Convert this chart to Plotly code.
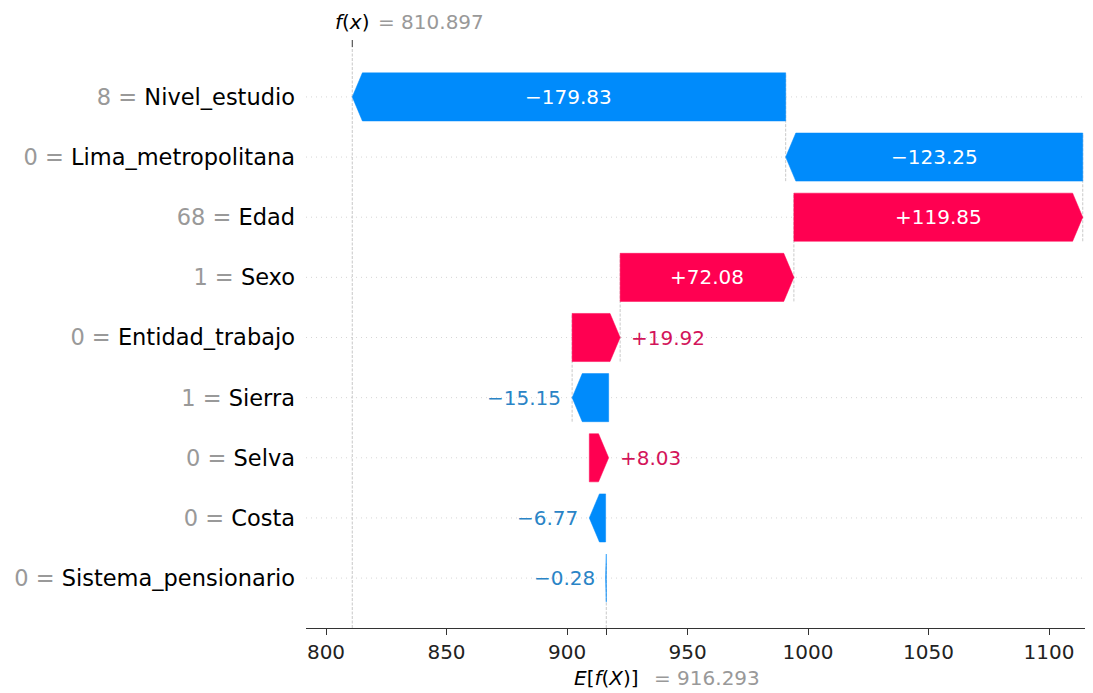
import plotly.graph_objects as go

# SHAP waterfall data (top row first)
feature_names = ["Nivel_estudio", "Lima_metropolitana", "Edad", "Sexo", "Entidad_trabajo",
                 "Sierra", "Selva", "Costa", "Sistema_pensionario"]
feature_values = ["8", "0", "68", "1", "0", "1", "0", "0", "0"]
shap_values = [-179.83, -123.25, 119.85, 72.08, 19.92, -15.15, 8.03, -6.77, -0.28]
base_value = 916.293
f_x = 810.897
x_ticks = [800, 850, 900, 950, 1000, 1050, 1100]

RED = "#ff0051"
BLUE = "#008bfb"
RED_TXT = "#d3145a"
BLUE_TXT = "#2a84c6"
FONT = "DejaVu Sans"

# page body adds an 8px margin, so the figure is a little smaller than the window
W, H = 1085, 685
M_L, M_R, M_T, M_B = 298, 2, 39, 65
X_RANGE = [791.7, 1117.4]
n = len(feature_names)
Y_RANGE = [-0.83, n - 1 + 0.83]
px_per_unit = (W - M_L - M_R) / (X_RANGE[1] - X_RANGE[0])

HEAD = 4.2      # arrow head length in data units
HALF = 0.4      # half bar height in row units
DASH = dict(color="#bbbbbb", width=0.8, dash="3px,1.5px")

fig = go.Figure()

# cumulative positions, from the bottom row upwards starting at E[f(X)]
rows = list(range(n - 1, -1, -1))   # y position of each feature (top = n-1)
starts = [0.0] * n
loc = base_value
for i in range(n - 1, -1, -1):
    starts[i] = loc
    loc += shap_values[i]

shapes = []

# faint dotted row lines
for y in rows:
    shapes.append(dict(type="line", xref="paper", yref="y", x0=0, x1=1, y0=y, y1=y,
                       line=dict(color="#cccccc", width=0.8, dash="1px,4px"), layer="below"))

# dashed connectors between consecutive bars (first five rows, like shap)
for i in range(5):
    y = rows[i]
    shapes.append(dict(type="line", xref="x", yref="y", x0=starts[i], x1=starts[i],
                       y0=y - 1 - HALF, y1=y + HALF, line=DASH, layer="below"))

# f(x) line full height, E[f(X)] line over the bottom row only
shapes.append(dict(type="line", xref="x", yref="paper", x0=f_x, x1=f_x, y0=0, y1=1,
                   line=DASH, layer="below"))
shapes.append(dict(type="line", xref="x", yref="paper", x0=base_value, x1=base_value,
                   y0=0, y1=1 / n, line=DASH, layer="below"))
# top tick for f(x)
shapes.append(dict(type="line", xref="x", yref="paper", x0=f_x, x1=f_x,
                   y0=1, y1=1 + 7 / (H - M_T - M_B), line=dict(color="#333333", width=1)))

annotations = []

for i in range(n):
    v = shap_values[i]
    y = rows[i]
    d = abs(v)
    h = min(d, HEAD)
    if v >= 0:
        left = starts[i]
        xs = [left, left + d - h, left + d, left + d - h, left, left]
        color, txt_color = RED, RED_TXT
        tip_x = left + d
    else:
        right = starts[i]
        xs = [right, right - (d - h), right - d, right - (d - h), right, right]
        color, txt_color = BLUE, BLUE_TXT
        tip_x = right - d
    ys = [y - HALF, y - HALF, y, y + HALF, y + HALF, y - HALF]
    fig.add_trace(go.Scatter(x=xs, y=ys, mode="lines", fill="toself", fillcolor=color,
                             line=dict(color=color, width=0.5), hoverinfo="skip",
                             showlegend=False))

    label = ("+" if v >= 0 else "\u2212") + f"{d:.2f}"
    text_w = len(label) * 0.62 * 20
    if d * px_per_unit > text_w + 10:
        annotations.append(dict(x=(starts[i] + tip_x) / 2, y=y, xref="x", yref="y", text=label,
                                showarrow=False, font=dict(family=FONT, size=20, color="white"),
                                xanchor="center", yanchor="middle"))
    else:
        annotations.append(dict(x=tip_x, y=y, xref="x", yref="y", text=label, showarrow=False,
                                font=dict(family=FONT, size=20, color=txt_color),
                                xanchor="left" if v >= 0 else "right", yanchor="middle",
                                xshift=9 if v >= 0 else -9))

# f(x) and E[f(X)] labels
annotations.append(dict(x=f_x, y=1, xref="x", yref="paper", yshift=25,
                        text="<i>f</i>(<i>x</i>)", showarrow=False,
                        font=dict(family=FONT, size=20, color="black"),
                        xanchor="center", yanchor="middle"))
annotations.append(dict(x=f_x, y=1, xref="x", yref="paper", yshift=25, xshift=24,
                        text=f"= {f_x:.3f}", showarrow=False,
                        font=dict(family=FONT, size=20, color="#999999"),
                        xanchor="left", yanchor="middle"))
annotations.append(dict(x=base_value, y=0, xref="x", yref="paper", yshift=-50,
                        text="<i>E</i>[<i>f</i>(<i>X</i>)]", showarrow=False,
                        font=dict(family=FONT, size=20, color="black"),
                        xanchor="center", yanchor="middle"))
annotations.append(dict(x=base_value, y=0, xref="x", yref="paper", yshift=-50, xshift=46,
                        text=f"= {base_value:.3f}", showarrow=False,
                        font=dict(family=FONT, size=20, color="#999999"),
                        xanchor="left", yanchor="middle"))

ticktext_y = [f"<span style='color:#999999'>{fv} = </span>{fn}"
              for fv, fn in zip(feature_values, feature_names)]

fig.update_layout(
    width=W, height=H,
    margin=dict(l=M_L, r=M_R, t=M_T, b=M_B, autoexpand=False),
    plot_bgcolor="white", paper_bgcolor="white",
    shapes=shapes, annotations=annotations,
    showlegend=False,
    font=dict(family=FONT, color="black"),
)
fig.update_xaxes(range=X_RANGE, showgrid=False, zeroline=False, automargin=False,
                 tickvals=x_ticks + [base_value], ticktext=[str(t) for t in x_ticks] + [""],
                 ticks="outside", ticklen=6, tickcolor="#333333", tickwidth=1,
                 showline=True, linecolor="#333333", linewidth=1.2,
                 tickfont=dict(family=FONT, size=20, color="#222222"))
fig.update_yaxes(range=Y_RANGE, showgrid=False, zeroline=False, showline=False, automargin=False,
                 tickvals=rows, ticktext=ticktext_y, ticks="", ticklabelstandoff=10,
                 tickfont=dict(family=FONT, size=22.5, color="black"))

fig.write_html("out.html")
